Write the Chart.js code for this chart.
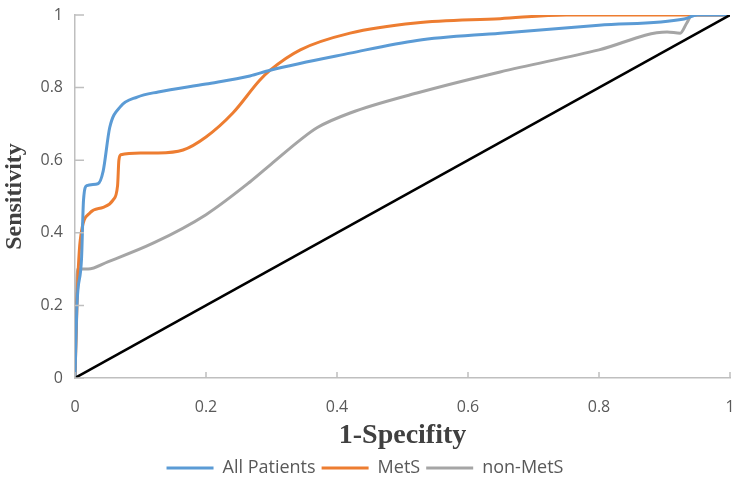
<!DOCTYPE html>
<html>
<head>
<meta charset="utf-8">
<script src="https://cdn.jsdelivr.net/npm/chart.js@4.4.1/dist/chart.umd.min.js"></script>
<style>
  body { margin: 0; background: #fff; }
  #wrap { width: 744px; height: 490px; }
</style>
</head>
<body>
<div id="wrap"><canvas id="roc"></canvas></div>
<script>
// ROC kõverad (1-spetsiifilisus, tundlikkus)
const allX = [0, 0.003, 0.01, 0.013, 0.018, 0.035, 0.043, 0.053, 0.069, 0.095, 0.127, 0.2, 0.267, 0.298, 0.42, 0.522, 0.649, 0.8, 0.93, 0.95, 1];
const allY = [0, 0.2, 0.33, 0.49, 0.53, 0.535, 0.57, 0.69, 0.747, 0.774, 0.788, 0.81, 0.832, 0.848, 0.895, 0.93, 0.95, 0.972, 0.989, 1, 1];

const metsX = [0, 0.003, 0.005, 0.008, 0.023, 0.043, 0.058, 0.065, 0.067, 0.07, 0.1, 0.127, 0.165, 0.2, 0.241, 0.282, 0.298, 0.344, 0.42, 0.52, 0.649, 0.75, 1];
const metsY = [0, 0.2, 0.3, 0.38, 0.455, 0.47, 0.49, 0.53, 0.6, 0.615, 0.62, 0.62, 0.628, 0.664, 0.73, 0.82, 0.848, 0.904, 0.95, 0.978, 0.99, 1, 1];

const nonX = [0, 0.004, 0.02, 0.05, 0.12, 0.2, 0.267, 0.3, 0.344, 0.37, 0.42, 0.522, 0.649, 0.8, 0.904, 0.924, 0.934, 0.942, 1];
const nonY = [0, 0.3, 0.3, 0.32, 0.372, 0.45, 0.54, 0.59, 0.656, 0.69, 0.73, 0.785, 0.843, 0.904, 0.953, 0.95, 0.978, 1, 1];

const refX = [0, 1];
const refY = [0, 1];

const tickValues = [0, 0.2, 0.4, 0.6, 0.8, 1];
const tickLabels = ['0', '0.2', '0.4', '0.6', '0.8', '1'];
const seriesNames = ['All Patients', 'MetS', 'non-MetS'];

const axisColor = '#bfbfbf';
const textColor = '#595959';

function pts(xs, ys) {
    return xs.map((x, i) => ({ x: x, y: ys[i] }));
}

// Excelis on jaotised sissepoole, joonistame need ise
const innerTicks = {
    id: 'innerTicks',
    afterDatasetsDraw(chart) {
        const { ctx, chartArea, scales } = chart;
        ctx.save();
        ctx.strokeStyle = axisColor;
        ctx.lineWidth = 1.5;
        tickValues.forEach(v => {
            const py = scales.y.getPixelForValue(v);
            const px = scales.x.getPixelForValue(v);
            ctx.beginPath();
            ctx.moveTo(chartArea.left, py);
            ctx.lineTo(chartArea.left + 9, py);
            ctx.moveTo(px, chartArea.bottom);
            ctx.lineTo(px, chartArea.bottom - 6);
            ctx.stroke();
        });
        ctx.restore();
    }
};

const tickLabel = (value) => {
    const i = tickValues.indexOf(value);
    return i >= 0 ? tickLabels[i] : '';
};

const ctx = document.getElementById('roc').getContext('2d');
new Chart(ctx, {
    type: 'scatter',
    data: {
        datasets: [
            {
                label: '',
                data: pts(refX, refY),
                showLine: true,
                borderColor: '#000000',
                borderWidth: 2.5,
                pointRadius: 0,
                tension: 0
            },
            {
                label: seriesNames[0],
                data: pts(allX, allY),
                showLine: true,
                borderColor: '#5b9bd5',
                backgroundColor: '#5b9bd5',
                borderWidth: 3,
                pointRadius: 0,
                cubicInterpolationMode: 'monotone'
            },
            {
                label: seriesNames[1],
                data: pts(metsX, metsY),
                showLine: true,
                borderColor: '#ed7d31',
                backgroundColor: '#ed7d31',
                borderWidth: 3,
                pointRadius: 0,
                cubicInterpolationMode: 'monotone'
            },
            {
                label: seriesNames[2],
                data: pts(nonX, nonY),
                showLine: true,
                borderColor: '#a5a5a5',
                backgroundColor: '#a5a5a5',
                borderWidth: 3,
                pointRadius: 0,
                cubicInterpolationMode: 'monotone'
            }
        ]
    },
    options: {
        responsive: true,
        maintainAspectRatio: false,
        animation: false,
        layout: { padding: { left: 0, right: 14, top: 15, bottom: 3 } },
        scales: {
            x: {
                min: 0,
                max: 1,
                afterBuildTicks: s => { s.ticks = tickValues.map(v => ({ value: v })); },
                afterFit: s => { s.height = 75; s.paddingLeft = 0; s.paddingRight = 0; },
                grid: { display: true, drawOnChartArea: false, drawTicks: false },
                border: { display: true, color: axisColor, width: 1.5 },
                ticks: {
                    padding: 20,
                    color: textColor,
                    font: { family: 'Open Sans', size: 16 },
                    maxRotation: 0,
                    callback: tickLabel
                },
                title: {
                    display: true,
                    text: '1-Specifity',
                    color: '#404040',
                    padding: 0,
                    font: { family: 'Liberation Serif', size: 28, weight: 'bold' }
                }
            },
            y: {
                min: 0,
                max: 1,
                afterBuildTicks: s => { s.ticks = tickValues.map(v => ({ value: v })); },
                afterFit: s => { s.width = 75; s.paddingTop = 0; s.paddingBottom = 0; },
                grid: { display: true, drawOnChartArea: false, drawTicks: false },
                border: { display: true, color: axisColor, width: 1.5 },
                ticks: {
                    padding: 12,
                    color: textColor,
                    font: { family: 'Open Sans', size: 16 },
                    callback: tickLabel
                },
                title: {
                    display: true,
                    text: 'Sensitivity',
                    color: '#404040',
                    padding: 0,
                    font: { family: 'Liberation Serif', size: 24, weight: 'bold' }
                }
            }
        },
        plugins: {
            legend: {
                position: 'bottom',
                labels: {
                    usePointStyle: true,
                    pointStyle: 'line',
                    pointStyleWidth: 47,
                    padding: 6,
                    color: textColor,
                    font: { family: 'Open Sans', size: 18 },
                    filter: item => item.text !== ''
                }
            },
            tooltip: { enabled: false }
        }
    },
    plugins: [innerTicks]
});
</script>
</body>
</html>
